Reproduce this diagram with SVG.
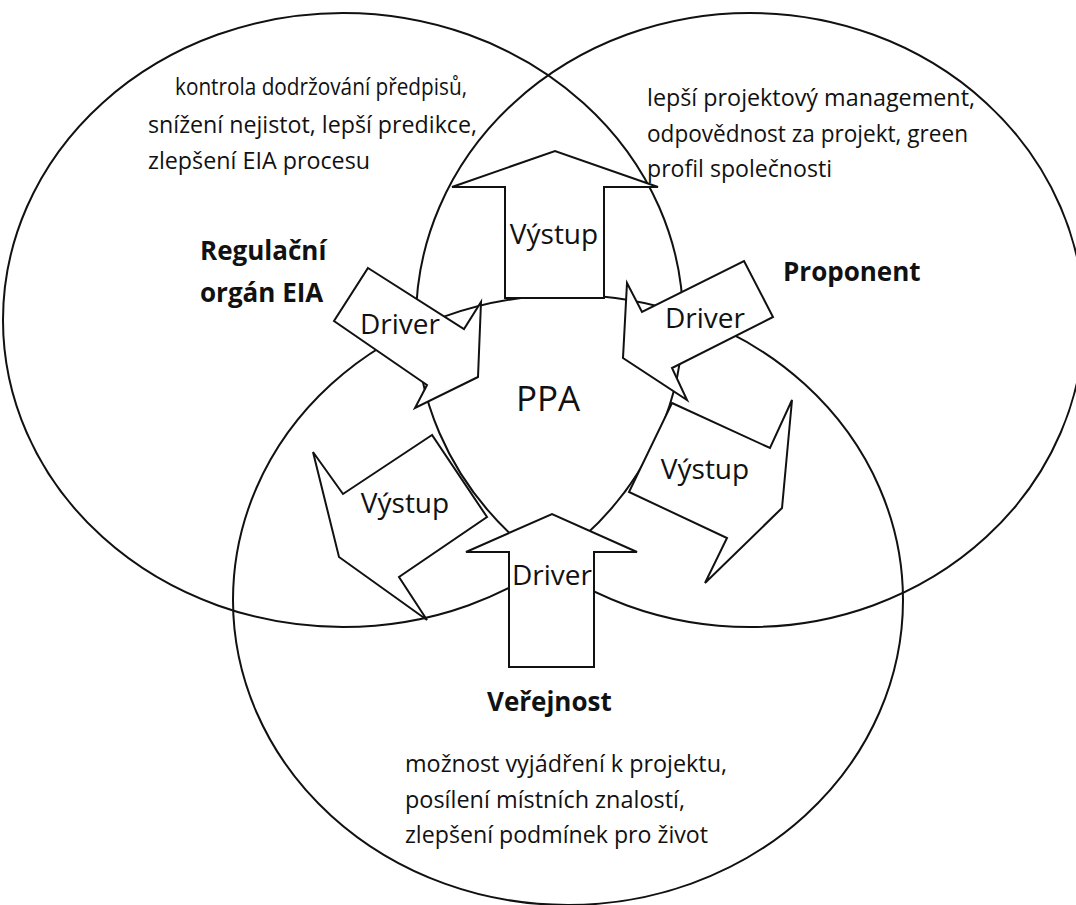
<svg xmlns="http://www.w3.org/2000/svg" width="1076" height="905" viewBox="0 0 1076 905">
<style>
.circ{fill:none;stroke:#111;stroke-width:2}
.arr{fill:#fff;stroke:#111;stroke-width:2;stroke-linejoin:miter}
.t{font-family:"Open Sans","Noto Sans","Liberation Sans",sans-serif;fill:#111}
.body{font-size:23.5px}
.bold{font-size:26px;font-weight:bold}
.lab{font-size:28px;text-anchor:middle}
.ppa{font-size:35px;text-anchor:middle}
</style>
<rect width="1076" height="905" fill="#fff"/>
<g id="circles">
<g id="regulacni-organ"><ellipse class="circ" cx="343" cy="320" rx="340" ry="307"/></g>
<g id="proponent"><ellipse class="circ" cx="750" cy="320" rx="334" ry="307"/></g>
<g id="verejnost"><ellipse class="circ" cx="568" cy="600" rx="335" ry="305"/></g>
</g>
<g id="connectors">
<g id="vystup-top"><polygon class="arr" points="505,298 505,187 452,187 555,151 658,187 604,187 604,298"/>
<text class="t lab" x="554" y="244">Výstup</text></g>
<g id="driver-left"><polygon class="arr" points="368,268 464,329 481,302 478,377 415,408 427,385 334,321"/>
<text class="t lab" x="400" y="334">Driver</text></g>
<g id="driver-right"><polygon class="arr" points="744,261 773,317 672,368 687,400 623,358 627,283 642,312"/>
<text class="t lab" x="705" y="328">Driver</text></g>
<g id="vystup-right"><polygon class="arr" points="672,403 770,448 792,400 782,508 705,583 727,538 629,492"/>
<text class="t lab" x="705" y="479">Výstup</text></g>
<g id="vystup-left"><polygon class="arr" points="432,435 343,494 313,452 339,557 427,620 399,577 487,517"/>
<text class="t lab" x="405" y="513">Výstup</text></g>
<g id="driver-bottom"><polygon class="arr" points="509,667 509,552 466,552 552,514 637,552 594,552 594,667"/>
<text class="t lab" x="552" y="585">Driver</text></g>
</g>
<g id="ppa"><text class="t ppa" x="548" y="411">PPA</text></g>
<g id="regulacni-text">
<text class="t bold" x="200" y="260">Regulační</text>
<text class="t bold" x="200" y="302">orgán EIA</text>
<text class="t body" x="175" y="95" textLength="292" lengthAdjust="spacingAndGlyphs">kontrola dodržování předpisů,</text>
<text class="t body" x="148" y="133" textLength="329" lengthAdjust="spacingAndGlyphs">snížení nejistot, lepší predikce,</text>
<text class="t body" x="148" y="169" textLength="222" lengthAdjust="spacingAndGlyphs">zlepšení EIA procesu</text>
</g>
<g id="proponent-text">
<text class="t bold" x="783" y="281">Proponent</text>
<text class="t body" x="647" y="106" textLength="328" lengthAdjust="spacingAndGlyphs">lepší projektový management,</text>
<text class="t body" x="647" y="142" textLength="321" lengthAdjust="spacingAndGlyphs">odpovědnost za projekt, green</text>
<text class="t body" x="647" y="177" textLength="185" lengthAdjust="spacingAndGlyphs">profil společnosti</text>
</g>
<g id="verejnost-text">
<text class="t bold" x="487" y="711">Veřejnost</text>
<text class="t body" x="405" y="772" textLength="322" lengthAdjust="spacingAndGlyphs">možnost vyjádření k projektu,</text>
<text class="t body" x="405" y="808" textLength="280" lengthAdjust="spacingAndGlyphs">posílení místních znalostí,</text>
<text class="t body" x="405" y="843" textLength="303" lengthAdjust="spacingAndGlyphs">zlepšení podmínek pro život</text>
</g>
</svg>
